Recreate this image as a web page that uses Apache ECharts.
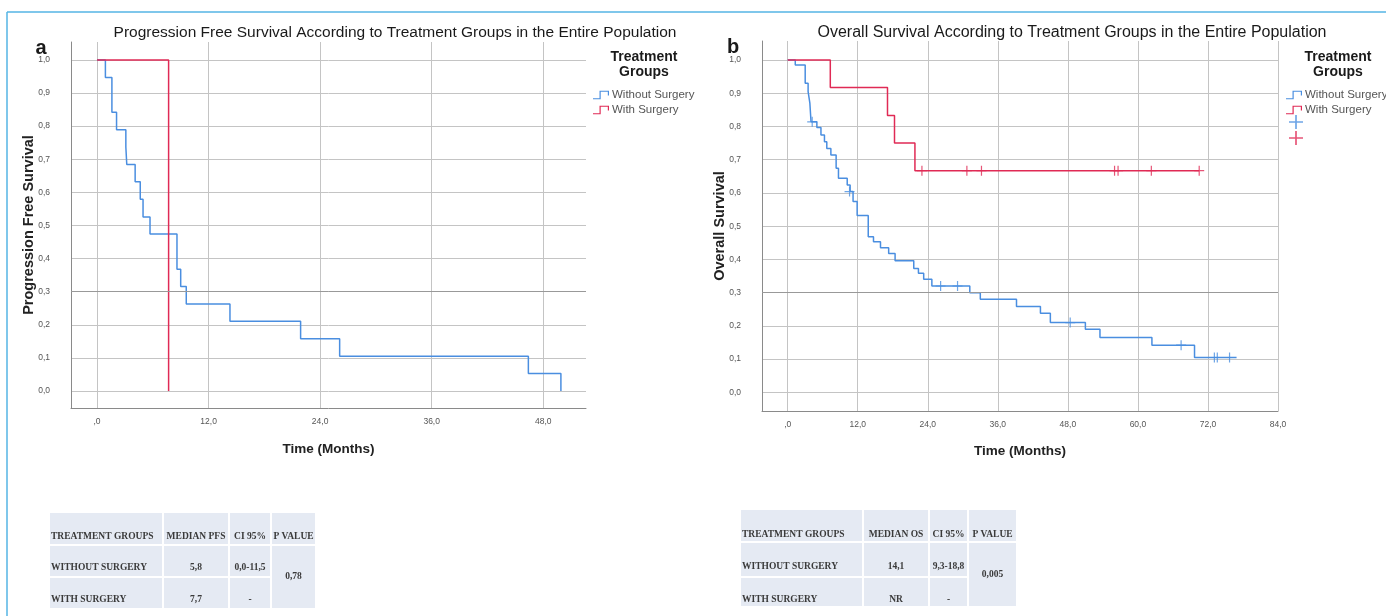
<!DOCTYPE html>
<html>
<head>
<meta charset="utf-8">
<script src="https://cdn.jsdelivr.net/npm/echarts@6/dist/echarts.min.js"></script>
<style>
  html, body { margin: 0; padding: 0; background: #fff; }
  #main { width: 1386px; height: 616px; }
</style>
</head>
<body>
<div id="main"></div>
<script>
// --- data ---
// a: progression free survival
var pfsTimeNoSurg = [0, 0.9, 1.6, 2.1, 3.1, 3.2, 4.1, 4.65, 4.95, 5.7, 8.6, 9.0, 9.6, 14.3, 21.9, 26.1, 46.4, 49.9];
var pfsSurvNoSurg = [1, 0.947, 0.842, 0.789, 0.737, 0.684, 0.632, 0.579, 0.526, 0.474, 0.368, 0.316, 0.263, 0.211, 0.158, 0.105, 0.053, 0];
var pfsTimeSurg = [0, 7.7];
var pfsSurvSurg = [1, 0];

// b: overall survival
var osTimeNoSurg = [0, 1.3, 3.0, 3.5, 3.8, 4.0, 5.0, 5.7, 6.3, 6.7, 7.4, 8.3, 8.7, 10.2, 10.7, 11.2, 11.9, 13.8, 14.7, 15.9, 17.3, 18.4, 21.6, 22.4, 23.3, 24.7, 31.2, 33.0, 39.2, 43.3, 45.0, 51.0, 53.5, 62.4, 69.7, 76.9];
var osSurvNoSurg = [1, 0.985, 0.93, 0.905, 0.87, 0.814, 0.797, 0.774, 0.754, 0.734, 0.714, 0.674, 0.644, 0.624, 0.604, 0.574, 0.532, 0.468, 0.453, 0.435, 0.418, 0.396, 0.373, 0.358, 0.34, 0.32, 0.30, 0.28, 0.258, 0.238, 0.21, 0.19, 0.165, 0.142, 0.105, 0.105];
var osTimeSurg = [0, 7.3, 17.1, 18.3, 21.8, 70.5];
var osSurvSurg = [1, 0.917, 0.833, 0.75, 0.667, 0.667];

// censored observations (b)
var osCensTimeNoSurg = [4.2, 10.6, 26.2, 29.1, 48.4, 67.4, 73.1, 73.6, 75.7];
var osCensSurvNoSurg = [0.814, 0.604, 0.32, 0.32, 0.21, 0.142, 0.105, 0.105, 0.105];
var osCensTimeSurg = [23.0, 30.7, 33.2, 56.0, 56.6, 62.3, 70.5];
var osCensSurvSurg = [0.667, 0.667, 0.667, 0.667, 0.667, 0.667, 0.667];

// tick labels
var pfsXTicks = [0, 12, 24, 36, 48];
var osXTicks = [0, 12, 24, 36, 48, 60, 72, 84];
var survTicks = [0, 0.1, 0.2, 0.3, 0.4, 0.5, 0.6, 0.7, 0.8, 0.9, 1.0];

// summary tables
var pfsTableHead = ["TREATMENT GROUPS", "MEDIAN PFS", "CI 95%", "P VALUE"];
var pfsTableRows = [["WITHOUT SURGERY", "5,8", "0,0-11,5"], ["WITH SURGERY", "7,7", "-"]];
var pfsPValue = "0,78";
var osTableHead = ["TREATMENT GROUPS", "MEDIAN OS", "CI 95%", "P VALUE"];
var osTableRows = [["WITHOUT SURGERY", "14,1", "9,3-18,8"], ["WITH SURGERY", "NR", "-"]];
var osPValue = "0,005";

var BLUE = "#4a8ee0";
var RED = "#e02a55";
var FONT = "Liberation Sans, Arial, sans-serif";
var SERIF = "Liberation Serif, Times New Roman, serif";

var chart = echarts.init(document.getElementById("main"));

function pairs(xs, ys) {
  return xs.map(function (x, i) { return [x, ys[i]]; });
}
function fmtX(v) {
  return v === 0 ? ",0" : v.toFixed(1).replace(".", ",");
}
function fmtY(v) {
  return v.toFixed(1).replace(".", ",");
}

var stepIcon = "path://M0,7.6H6.6V0H15V1.2H7.8V8.8H0Z M15,0H16.2V5H15Z";
var plusIcon = "path://M0,4.4H10V5.6H0Z M4.4,0H5.6V10H4.4Z";

function xAxisOf(grid, min, max, ticks, gap) {
  return {
    gridIndex: grid, type: "value", min: min, max: max,
    axisLine: { show: true, onZero: false, lineStyle: { color: "#8a8a8a" } },
    axisTick: { show: false, customValues: ticks },
    axisLabel: { customValues: ticks, formatter: fmtX, fontSize: 8.5, color: "#555", margin: 9 },
    splitLine: { show: true, lineStyle: { color: "#c4c4c4" } },
    name: "Time (Months)", nameLocation: "middle", nameGap: gap,
    nameTextStyle: { fontWeight: "bold", fontSize: 13.5, color: "#222" }
  };
}
function yAxisOf(grid, min, max, title) {
  return {
    gridIndex: grid, type: "value", min: min, max: max,
    axisLine: { show: true, onZero: false, lineStyle: { color: "#8a8a8a" } },
    axisTick: { show: false, customValues: survTicks },
    axisLabel: { customValues: survTicks, formatter: fmtY, fontSize: 8.5, color: "#555", margin: 21 },
    splitLine: { show: true, lineStyle: { color: "#c4c4c4" } },
    name: title, nameLocation: "middle", nameGap: 35, nameMoveOverlap: false,
    nameTextStyle: { fontWeight: "bold", fontSize: 14.5, color: "#222" }
  };
}
var refLine = {
  silent: true, symbol: "none", label: { show: false },
  lineStyle: { color: "#999", width: 1, type: "solid" },
  data: [{ yAxis: 0.3 }]
};
function kmLine(name, grid, xs, ys, color, withRef) {
  var s = {
    name: name, type: "line", xAxisIndex: grid, yAxisIndex: grid, step: "end",
    symbol: "none", data: pairs(xs, ys),
    lineStyle: { color: color, width: 1.5 }, itemStyle: { color: color }, z: 3
  };
  if (withRef) s.markLine = refLine;
  return s;
}
function censors(name, grid, xs, ys, color) {
  return {
    name: name, type: "scatter", xAxisIndex: grid, yAxisIndex: grid,
    symbol: plusIcon, symbolSize: 10, data: pairs(xs, ys),
    itemStyle: { color: color }, z: 4
  };
}

// table drawn as graphic elements
function table(cols, rows, textY, head, body, pval) {
  var els = [];
  var bg = "#e5eaf3";
  function cell(c0, c1, r0, r1) {
    els.push({ type: "rect", shape: { x: cols[c0] + 1, y: rows[r0] + 1, width: cols[c1] - cols[c0] - 2, height: rows[r1] - rows[r0] - 2 },
      style: { fill: bg } });
  }
  function txt(s, x, y, align) {
    els.push({ type: "text", x: x, y: y, style: { text: s, font: "bold 9.5px " + SERIF, fill: "#3a3a3a", align: align, verticalAlign: "middle" } });
  }
  for (var c = 0; c < 4; c++) cell(c, c + 1, 0, 1);
  for (var r = 1; r < 3; r++) for (c = 0; c < 3; c++) cell(c, c + 1, r, r + 1);
  cell(3, 4, 1, 3);
  txt(head[0], cols[0] + 2, textY[0], "left");
  for (c = 1; c < 4; c++) txt(head[c], (cols[c] + cols[c + 1]) / 2, textY[0], "center");
  body.forEach(function (row, i) {
    txt(row[0], cols[0] + 2, textY[i + 1], "left");
    for (var k = 1; k < 3; k++) txt(row[k], (cols[k] + cols[k + 1]) / 2, textY[i + 1], "center");
  });
  txt(pval, (cols[3] + cols[4]) / 2, (rows[1] + rows[3]) / 2, "center");
  return els;
}

function label(s, x, y, font, align) {
  return { type: "text", x: x, y: y, style: { text: s, font: font, fill: "#1a1a1a", align: align || "center", verticalAlign: "middle" } };
}

var graphics = [
  { type: "line", shape: { x1: 7, y1: 12, x2: 1386, y2: 12 }, style: { stroke: "#55b5e5", lineWidth: 1.5 } },
  { type: "line", shape: { x1: 7, y1: 12, x2: 7, y2: 616 }, style: { stroke: "#55b5e5", lineWidth: 1.5 } },
  label("a", 41, 48, "bold 20px " + FONT),
  label("b", 733, 47, "bold 20px " + FONT),
  label("Progression Free Survival According to Treatment Groups in the Entire Population", 395, 33, "15.5px " + FONT),
  label("Overall Survival According to Treatment Groups in the Entire Population", 1072, 33, "16px " + FONT),
  label("Treatment", 644, 57, "bold 14px " + FONT),
  label("Groups", 644, 72, "bold 14px " + FONT),
  label("Treatment", 1338, 57, "bold 14px " + FONT),
  label("Groups", 1338, 72, "bold 14px " + FONT)
];
graphics = graphics
  .concat(table([49, 163, 229, 271, 316], [512, 545, 577, 609], [537, 568, 600], pfsTableHead, pfsTableRows, pfsPValue))
  .concat(table([740, 863, 929, 968, 1017], [509, 542, 577, 607], [535, 567, 600], osTableHead, osTableRows, osPValue));

var legendText = { fontSize: 11.5, color: "#555", padding: [0, 0, 0, -2] };

var option = {
  animation: false,
  textStyle: { fontFamily: FONT },
  grid: [
    { left: 71, top: 42, width: 515, height: 366 },
    { left: 762, top: 41, width: 516, height: 370 }
  ],
  xAxis: [
    xAxisOf(0, -2.8, 52.6, pfsXTicks, 34),
    xAxisOf(1, -4.4, 84, osXTicks, 33)
  ],
  yAxis: [
    yAxisOf(0, -0.051, 1.054, "Progression Free Survival"),
    yAxisOf(1, -0.056, 1.057, "Overall Survival")
  ],
  legend: [
    {
      left: 588, top: 84, orient: "vertical", selectedMode: false,
      itemWidth: 16, itemHeight: 9, itemGap: 3,
      textStyle: legendText,
      data: [{ name: "Without Surgery", icon: stepIcon }, { name: "With Surgery", icon: stepIcon }]
    },
    {
      left: 1281, top: 84, orient: "vertical", selectedMode: false,
      itemWidth: 16, itemHeight: 9, itemGap: 3,
      textStyle: legendText,
      data: [{ name: "Without Surgery", icon: stepIcon }, { name: "With Surgery", icon: stepIcon }]
    },
    {
      left: 1283, top: 110, orient: "vertical", selectedMode: false,
      itemWidth: 16, itemHeight: 14, itemGap: 2,
      textStyle: legendText,
      formatter: function () { return ""; },
      data: [
        { name: "Without Surgery censored", icon: plusIcon },
        { name: "With Surgery censored", icon: plusIcon }
      ]
    }
  ],
  graphic: graphics,
  series: [
    kmLine("Without Surgery", 0, pfsTimeNoSurg, pfsSurvNoSurg, BLUE, true),
    kmLine("With Surgery", 0, pfsTimeSurg, pfsSurvSurg, RED, false),
    kmLine("Without Surgery", 1, osTimeNoSurg, osSurvNoSurg, BLUE, true),
    kmLine("With Surgery", 1, osTimeSurg, osSurvSurg, RED, false),
    censors("Without Surgery censored", 1, osCensTimeNoSurg, osCensSurvNoSurg, BLUE),
    censors("With Surgery censored", 1, osCensTimeSurg, osCensSurvSurg, RED)
  ]
};
chart.setOption(option);
</script>
</body>
</html>
